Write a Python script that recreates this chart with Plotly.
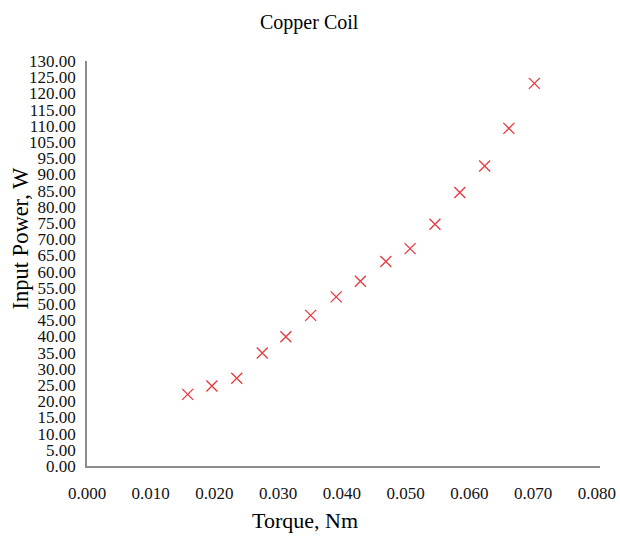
import plotly.graph_objects as go

# Data
torque_nm = [0.0158, 0.0196, 0.0235, 0.0275, 0.0312, 0.0351, 0.0391, 0.0429,
             0.0469, 0.0507, 0.0546, 0.0585, 0.0624, 0.0662, 0.0702]
# positions along the (evenly spaced) value axis
input_power_w = [22.1, 24.7, 27.1, 34.9, 39.9, 46.5, 52.2, 57.0,
                 63.1, 67.1, 74.6, 84.4, 92.6, 104.2, 118.1]

# y tick labels exactly as printed (note: "100.00" absent in the original)
y_tick_labels = ["0.00", "5.00", "10.00", "15.00", "20.00", "25.00", "30.00",
                 "35.00", "40.00", "45.00", "50.00", "55.00", "60.00", "65.00",
                 "70.00", "75.00", "80.00", "85.00", "90.00", "95.00", "105.00",
                 "110.00", "115.00", "120.00", "125.00", "130.00"]
y_tick_positions = [5 * i for i in range(len(y_tick_labels))]
x_tick_values = [0.0, 0.01, 0.02, 0.03, 0.04, 0.05, 0.06, 0.07, 0.08]
x_tick_labels = ["0.000", "0.010", "0.020", "0.030", "0.040", "0.050",
                 "0.060", "0.070", "0.080"]

FONT = "Liberation Serif, Times New Roman, serif"

fig = go.Figure()
fig.add_trace(go.Scatter(
    x=torque_nm, y=input_power_w, mode="markers",
    marker=dict(symbol="x-thin-open", size=11,
                line=dict(color="#e8383f", width=1.3), color="#e8383f"),
    showlegend=False,
))

fig.update_layout(
    width=620, height=536,
    paper_bgcolor="white", plot_bgcolor="white",
    margin=dict(l=87, r=20, t=61, b=70),
    font=dict(family=FONT, color="black", size=17),
    xaxis=dict(range=[0, 0.0805], tickvals=x_tick_values, ticktext=x_tick_labels,
               showgrid=False, zeroline=False, showline=True, linecolor="#8c8c8c",
               linewidth=1.5, ticks="", ticklabelstandoff=11, automargin=False,
               tickfont=dict(family=FONT, size=17, color="#111111")),
    yaxis=dict(range=[0, 125], tickvals=y_tick_positions, ticktext=y_tick_labels,
               showgrid=False, zeroline=False, showline=True, linecolor="#8c8c8c",
               linewidth=1.5, ticks="", ticklabelstandoff=6, automargin=False,
               tickfont=dict(family=FONT, size=17, color="#111111")),
    annotations=[
        dict(text="Copper Coil", xref="paper", yref="paper", x=0.5, y=1,
             xanchor="center", yanchor="middle", xshift=-34, yshift=39,
             showarrow=False, font=dict(family=FONT, size=20)),
        dict(text="Torque, Nm", xref="paper", yref="paper", x=0.5, y=0,
             xanchor="center", yanchor="middle", xshift=-39, yshift=-54,
             showarrow=False, font=dict(family=FONT, size=22)),
        dict(text="Input Power, W", xref="paper", yref="paper", x=0, y=0.5,
             xanchor="center", yanchor="middle", xshift=-67, yshift=25,
             textangle=-90, showarrow=False, font=dict(family=FONT, size=22.5)),
    ],
)

fig.write_html("out.html", config={"displayModeBar": False},
               post_script="document.body.style.margin='0';document.body.style.padding='0';")
